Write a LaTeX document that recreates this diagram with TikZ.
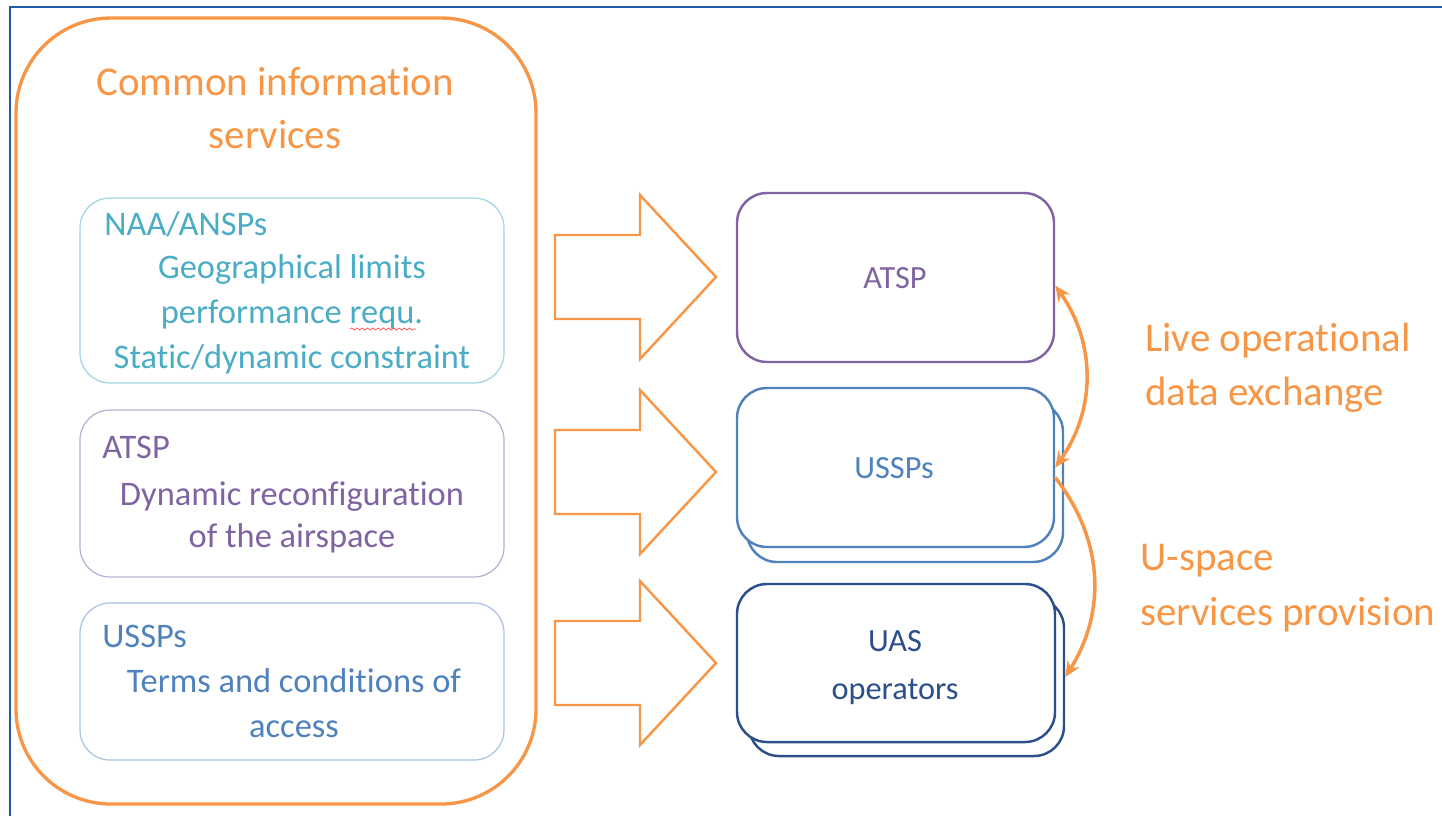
\documentclass[tikz,border=0pt]{standalone}
\usepackage{fontspec}
\setmainfont{Carlito}[Ligatures=NoCommon,Contextuals=NoAlternate]
\usepackage{xcolor}
\usepackage{tikz}
\usetikzlibrary{arrows.meta,fit,positioning}
\usetikzlibrary{decorations.pathmorphing}

\definecolor{cisorange}{HTML}{F79646}
\definecolor{framblue}{HTML}{1E5AAA}
\definecolor{aquatext}{HTML}{4BACC6}
\definecolor{aqualine}{HTML}{9FD5E2}
\definecolor{purptext}{HTML}{8064A2}
\definecolor{purpline}{HTML}{BBAED3}
\definecolor{bluetext}{HTML}{4F81BD}
\definecolor{blueline}{HTML}{A9C1E2}
\definecolor{darkblue}{HTML}{2B4F8A}

\newcommand{\bigfont}{\fontsize{23.3}{30}\selectfont}
\newcommand{\boxfont}{\fontsize{19.6}{25}\selectfont}
\newcommand{\actorfont}{\fontsize{18.4}{24}\selectfont}

\begin{document}
\begin{tikzpicture}[x=0.02cm,y=-0.02cm,
    every node/.style={inner sep=0pt},
    infobox/.style={draw=#1,rounded corners=0.6cm,line width=0.7pt},
    actorbox/.style={draw=#1,fill=white,rounded corners=0.6cm,line width=1.4pt},
    blockarrow/.style={draw=cisorange,line width=1.4pt,line join=miter},
    swaparrow/.style={draw=cisorange,line width=2pt,bend left=35}]
        \useasboundingbox (0,0) rectangle (1442,816);
        \draw[line width=1.2pt,draw=framblue] (10,816)--(10,7)--(1442,7);

        % common information services
        \node[draw=cisorange,line width=1.9pt,rounded corners=1.9cm,fit={(16,18) (536,804)}] (cis) {};
        \node[anchor=base,text=cisorange,font=\bigfont] (cistitle) at (275,95) {Common information};
        \node[anchor=base,text=cisorange,font=\bigfont] (cistitleb) at (275,148) {services};

        \node[infobox=aqualine,fit={(80,198) (504,383)}] (naa) {};
        \node[anchor=base west,text=aquatext,font=\boxfont] (naahead) at (104,235) {NAA/ANSPs};
        \node[anchor=base,text=aquatext,font=\boxfont] (naaa) at (292,278) {Geographical limits};
        \node[anchor=base,text=aquatext,font=\boxfont] (naab) at (292,323) {performance requ.};
        \node[anchor=base,text=aquatext,font=\boxfont] (naac) at (292,368) {Static/dynamic constraint};
        \draw[red!70,line width=0.4pt,decorate,decoration={snake,amplitude=0.6pt,segment length=3pt}] (350,329)--(416,329);

        \node[infobox=purpline,fit={(80,410) (504,577)}] (atspinfo) {};
        \node[anchor=base west,text=purptext,font=\boxfont] (atsphead) at (102,458) {ATSP};
        \node[anchor=base,text=purptext,font=\boxfont] (atspa) at (292,505) {Dynamic reconfiguration};
        \node[anchor=base,text=purptext,font=\boxfont] (atspb) at (292,547) {of the airspace};

        \node[infobox=blueline,fit={(80,603) (504,760)}] (usspinfo) {};
        \node[anchor=base west,text=bluetext,font=\boxfont] (ussphead) at (102,647) {USSPs};
        \node[anchor=base,text=bluetext,font=\boxfont] (usspa) at (294,692) {Terms and conditions of};
        \node[anchor=base,text=bluetext,font=\boxfont] (usspb) at (294,737) {access};

        % block arrows
        \draw[blockarrow] (555,235)--(640,235)--(640,195)--(716,277)--(640,359)--(640,319)--(555,319)--cycle;
        \draw[blockarrow] (555,430)--(640,430)--(640,390)--(716,472)--(640,554)--(640,514)--(555,514)--cycle;
        \draw[blockarrow] (555,621)--(640,621)--(640,581)--(716,663)--(640,745)--(640,705)--(555,705)--cycle;

        % actors
        \node[actorbox=purptext,fit={(737,193) (1054,362)}] (atsp) {};
        \node[text=purptext,font=\actorfont,anchor=base] (atsplabel) at (895,288) {ATSP};

        \node[actorbox=bluetext,fit={(747,402) (1063,562)}] (usspback) {};
        \node[actorbox=bluetext,fit={(737,388) (1054,547)}] (ussp) {};
        \node[text=bluetext,font=\actorfont,anchor=base] (ussplabel) at (894,478) {USSPs};

        \node[actorbox=darkblue,fit={(749,598) (1064,756)}] (uasback) {};
        \node[actorbox=darkblue,fit={(737,584) (1055,742)}] (uas) {};
        \node[text=darkblue,font=\actorfont,anchor=base] (uaslabel) at (895,651) {UAS};
        \node[text=darkblue,font=\actorfont,anchor=base] (uaslabelb) at (895,699) {operators};

        \draw[swaparrow,{Stealth[length=9pt,width=8pt]}-{Stealth[length=9pt,width=8pt]}] ([yshift=-0.16cm]atsp.east) to (ussp.east);
        \draw[swaparrow,-{Stealth[length=9pt,width=8pt]}] ([yshift=-0.2cm]ussp.east) to (uasback.east);

        \node[anchor=base west,text=cisorange,font=\bigfont] (livea) at (1145,351) {Live operational};
        \node[anchor=base west,text=cisorange,font=\bigfont] (liveb) at (1145,405) {data exchange};
        \node[anchor=base west,text=cisorange,font=\bigfont] (uspacea) at (1140,570) {U-space};
        \node[anchor=base west,text=cisorange,font=\bigfont] (uspaceb) at (1140,625) {services provision};
    \end{tikzpicture}
\end{document}
